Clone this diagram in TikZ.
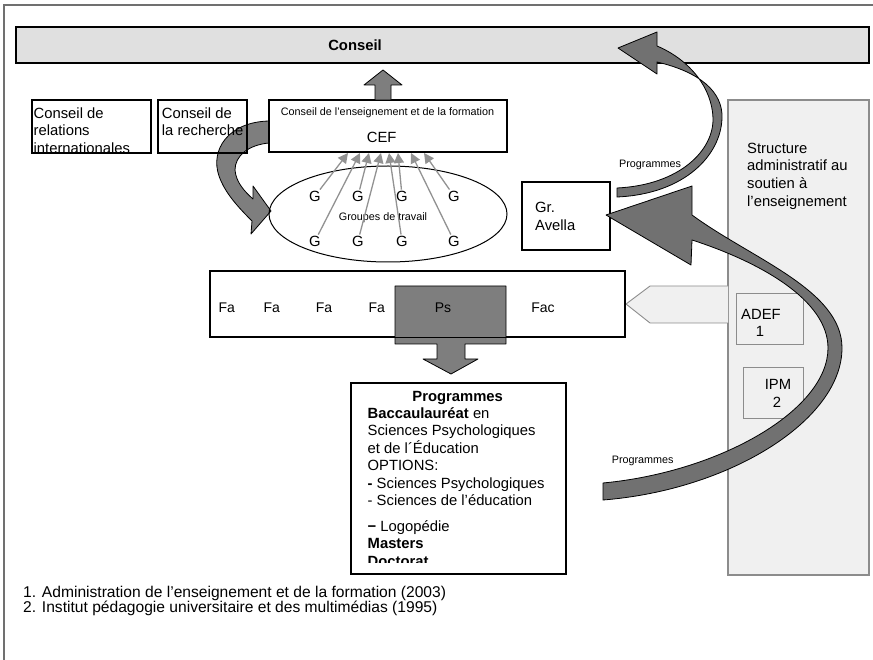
\documentclass[tikz,border=0pt]{standalone}
\usepackage{fontspec}
\setmainfont{Liberation Sans}
\usetikzlibrary{arrows.meta,calc,shapes.geometric}
\definecolor{barfill}{HTML}{E0E0E0}
\definecolor{panfill}{HTML}{F0F0F0}
\definecolor{panline}{HTML}{8C8C8C}
\definecolor{dg}{HTML}{7E7E7E}
\definecolor{ga}{HTML}{929292}
\definecolor{frm}{HTML}{707070}
\begin{document}
\begin{tikzpicture}[x=1pt,y=-1pt,
  bx/.style={draw=black,line width=1.1pt,rectangle,inner sep=0},
  gbx/.style={draw=panline,line width=0.9pt,rectangle,inner sep=0,fill=panfill},
  f15/.style={font=\fontsize{14.8}{17.4}\selectfont,inner sep=0},
  f14/.style={font=\fontsize{14}{16.8}\selectfont,inner sep=0},
  f11/.style={font=\fontsize{10.8}{13}\selectfont,inner sep=0},
  fnote/.style={font=\fontsize{15.6}{15}\selectfont,inner sep=0},
  block/.style={fill=dg,draw=black,line width=0.8pt,line join=round},
  garr/.style={draw=ga,line width=1.3pt,-{Triangle[width=10pt,length=10pt]}},
  gl/.style={f15,inner sep=1pt}
]
\useasboundingbox (0,0) rectangle (873,660);
% frame
\draw[frm,line width=1.4pt] (4,660) -- (4,5) -- (873,5);

% Conseil bar
\node[bx,fill=barfill,minimum width=853pt,minimum height=36pt,line width=1.4pt] (cons) at (442.5,45) {};
\node[f15,font=\fontsize{14.8}{17}\selectfont\bfseries,anchor=base] (conslbl) at (355,50.3) {Conseil};

% right panel
\node[gbx,minimum width=141pt,minimum height=475pt,line width=1.2pt] (panel) at (798.5,337.5) {};
\node[f15,align=left,anchor=north west,font=\fontsize{14.8}{17.7}\selectfont] (pantxt) at (747,142.7)
  {Structure\\administratif au\\soutien à\\l’enseignement};

% pentagon arrow from panel to faculties
\path[fill=panfill] (728,286) -- (650,286) -- (626,304) -- (650,323) -- (728,323) -- cycle;
\draw[panline,line width=0.9pt,line join=round] (728,286) -- (650,286) -- (626,304) -- (650,323) -- (728,323);

% ADEF and IPM
\node[gbx,minimum width=67pt,minimum height=51pt] (adef) at (769.5,318.5) {};
\node[f15,anchor=base west] (adeft) at (741,319.3) {ADEF};
\node[f15,anchor=base] (adef1) at (760,336.3) {1};
\node[gbx,minimum width=60pt,minimum height=51pt] (ipm) at (773,392.5) {};
\node[f15,anchor=base] (ipmt) at (778,389.3) {IPM};
\node[f15,anchor=base] (ipm2) at (777,407.3) {2};

% left curved block arrow (behind boxes)
\path[block] (269,121) .. controls (228,122) and (210,150) .. (219,176)
  .. controls (225,193) and (238,207) .. (252,221) -- (251,234) -- (271,211) -- (253,186) -- (253,199)
  .. controls (244,191) and (236,182) .. (235,170) .. controls (235,156) and (248,145) .. (269,143) -- cycle;

% left boxes
\node[bx,minimum width=119pt,minimum height=53pt] (cri) at (91.5,126.5) {};
\node[f15,align=left,anchor=north west] (critxt) at (33.5,107.4) {Conseil de\\relations\\internationales};
\node[bx,minimum width=89pt,minimum height=53pt] (crr) at (202.5,126.5) {};
\node[f15,align=left,anchor=north west] (crrtxt) at (161.7,107.4) {Conseil de\\la recherche};

% CEF box
\node[bx,fill=white,minimum width=238pt,minimum height=52pt] (cef) at (388,126) {};
\node[f11,anchor=base] (ceft) at (387.5,115.9) {Conseil de l’enseignement et de la formation};
\node[f15,anchor=base] (cefn) at (381.7,142.3) {CEF};
% up arrow CEF -> Conseil
\path[block] (375,100) -- (375,85) -- (364,85) -- (383,70) -- (402,85) -- (391,85) -- (391,100) -- cycle;

% working groups
\node[draw=black,line width=1pt,ellipse,inner sep=0,minimum width=238pt,minimum height=96pt] (grp) at (388,214) {};
\node[f11,anchor=base] (grpt) at (383,220.6) {Groupes de travail};
\node[gl] (g1) at (315,196) {G};
\node[gl] (g2) at (358,196) {G};
\node[gl] (g3) at (402,196) {G};
\node[gl] (g4) at (454,196) {G};
\node[gl] (g5) at (315,241) {G};
\node[gl] (g6) at (358,241) {G};
\node[gl] (g7) at (402,241) {G};
\node[gl] (g8) at (454,241) {G};
\coordinate (c1) at (348,153);
\coordinate (c2) at (369,153);
\coordinate (c3) at (398,153);
\coordinate (c4) at (424,153);
\coordinate (c5) at (360,153);
\coordinate (c6) at (381,153);
\coordinate (c7) at (389,153);
\coordinate (c8) at (411,153);
\draw[garr] (g1) -- (c1);
\draw[garr] (g2) -- (c2);
\draw[garr] (g3) -- (c3);
\draw[garr] (g4) -- (c4);
\draw[garr] (g5) -- (c5);
\draw[garr] (g6) -- (c6);
\draw[garr] (g7) -- (c7);
\draw[garr] (g8) -- (c8);

% Gr. Avella
\node[bx,minimum width=88pt,minimum height=68pt] (gra) at (566,216) {};
\node[f15,align=left,anchor=north west] (gratxt) at (535,202.2) {Gr.\\Avella};

% faculties row
\node[bx,fill=white,minimum width=415pt,minimum height=66pt] (fa) at (417.5,304) {};
\path[block] (395,286) -- (506,286) -- (506,344) -- (465,344) -- (465,359) -- (478,359) -- (451,374)
  -- (423,359) -- (437,359) -- (437,344) -- (395,344) -- cycle;
\draw[line width=1.1pt] (fa.south west) rectangle (fa.north east);
\node[f14,anchor=base] (fa1) at (226.7,312.3) {Fa};
\node[f14,anchor=base] (fa2) at (271.7,312.3) {Fa};
\node[f14,anchor=base] (fa3) at (324,312.3) {Fa};
\node[f14,anchor=base] (fa4) at (376.7,312.3) {Fa};
\node[f14,anchor=base] (ps) at (443,312.3) {Ps};
\node[f14,anchor=base] (fac) at (543,312.3) {Fac};

% programmes box
\node[bx,minimum width=215pt,minimum height=191pt] (prog) at (458.5,478.5) {};
\node[f15,font=\fontsize{14.8}{17.4}\selectfont\bfseries,anchor=base] (progh) at (457.7,401.3) {Programmes};
\begin{scope}
\clip (351,383) rectangle (566,562.5);
\node[f15,align=left,anchor=north west] (progtxt) at (367.5,407.5)
  {\textbf{Baccaulauréat} en\\Sciences Psychologiques\\et de l´Éducation\\OPTIONS:\\\textbf{-} Sciences Psychologiques\\- Sciences de l’éducation\\[8.4pt]\textbf{−} Logopédie\\\textbf{Masters}\\\textbf{Doctorat}};
\end{scope}

% top right curved arrow (Programmes -> Conseil)
\path[block,fill=dg!90!black] (617,188) .. controls (680,185) and (714,150) .. (713,118)
  .. controls (712,88) and (690,60) .. (657,46) -- (657,32) -- (618,48) -- (657,74) -- (657,62)
  .. controls (700,72) and (723,92) .. (722,118) .. controls (721,155) and (685,194) .. (617,197) -- cycle;
\node[f11,anchor=base] (prog1) at (650,167.2) {Programmes};

% lower big curved arrow (Programmes -> Gr. Avella)
\path[block,fill=dg!90!black] (692,215) .. controls (752,259) and (842,290) .. (842,348)
  .. controls (842,420) and (730,490) .. (603,500) -- (603,483)
  .. controls (720,472) and (828,410) .. (828,348) .. controls (828,300) and (760,262) .. (692,240)
  -- (691,265) -- (606,215) -- (692,186) -- cycle;
\node[f11,anchor=base] (prog2) at (642.7,463.2) {Programmes};

% footnotes
\node[fnote,anchor=base west] (fn1) at (23,597.4) {1. Administration de l’enseignement et de la formation (2003)};
\node[fnote,anchor=base west] (fn2) at (23,612.4) {2. Institut pédagogie universitaire et des multimédias (1995)};
\end{tikzpicture}
\end{document}
